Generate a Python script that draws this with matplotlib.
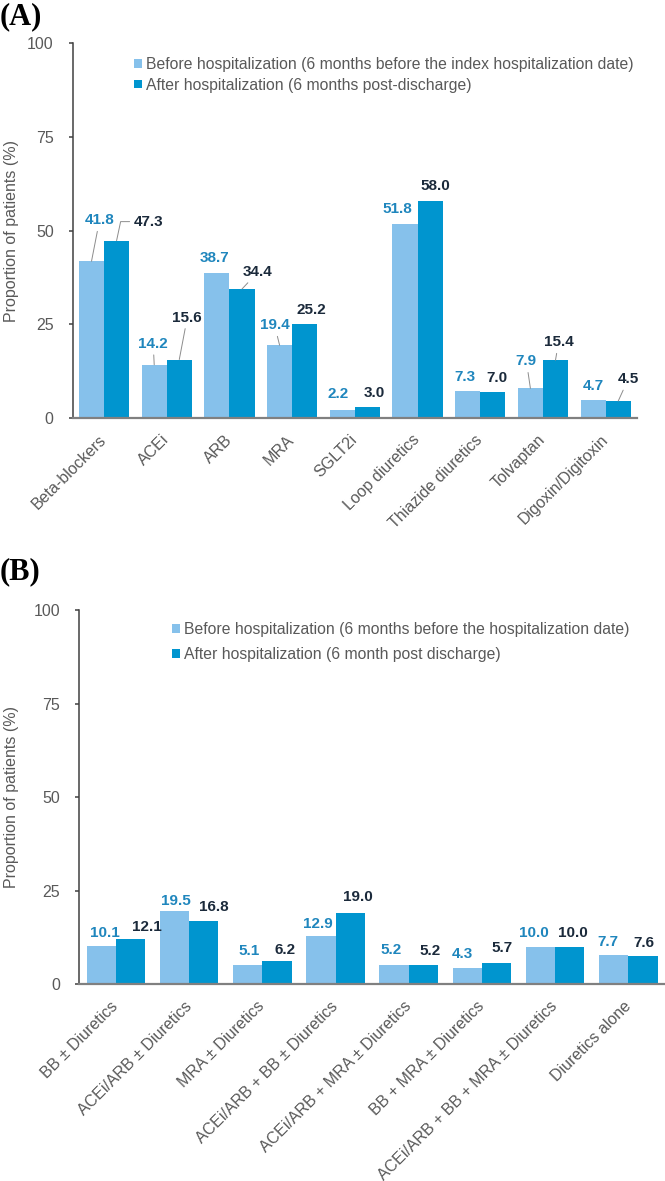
import matplotlib
matplotlib.use("Agg")
import matplotlib.pyplot as plt
import numpy as np

plt.rcParams['font.family'] = ['Liberation Sans', 'DejaVu Sans']

# panel A: individual drug classes
drugs = ["Beta-blockers", "ACEi", "ARB", "MRA", "SGLT2i", "Loop diuretics",
         "Thiazide diuretics", "Tolvaptan", "Digoxin/Digitoxin"]
drugs_before = [41.8, 14.2, 38.7, 19.4, 2.2, 51.8, 7.3, 7.9, 4.7]
drugs_after = [47.3, 15.6, 34.4, 25.2, 3.0, 58.0, 7.0, 15.4, 4.5]
legend_a = ["Before hospitalization (6 months before the index hospitalization date)",
            "After hospitalization (6 months post-discharge)"]

# panel B: combinations
combos = ["BB \u00b1 Diuretics", "ACEi/ARB \u00b1 Diuretics", "MRA \u00b1 Diuretics",
          "ACEi/ARB + BB \u00b1 Diuretics", "ACEi/ARB + MRA \u00b1 Diuretics",
          "BB + MRA \u00b1 Diuretics", "ACEi/ARB + BB + MRA \u00b1 Diuretics",
          "Diuretics alone"]
combos_before = [10.1, 19.5, 5.1, 12.9, 5.2, 4.3, 10.0, 7.7]
combos_after = [12.1, 16.8, 6.2, 19.0, 5.2, 5.7, 10.0, 7.6]
legend_b = ["Before hospitalization (6 months before the hospitalization date)",
            "After hospitalization (6 month post discharge)"]

# label nudges in pixels (dx, dy) from bar top; leader: None, "line" or a connection style
offs_a_before = [(8, 41), (-1, 21), (-2, 15), (-5, 20), (-4, 16), (-8, 15), (-3, 14), (-4, 27), (0, 14)]
offs_a_after = [(32, 19), (8, 42), (16, 17), (7, 14), (7, 14), (5, 15), (4, 14), (3, 18), (10, 22)]
lead_a_before = ["line", "line", None, "line", None, None, None, "line", None]
lead_a_after = ["angle,angleA=0,angleB=78,rad=0", "line", "line", None, None, None, None, "line", "line"]
offs_b_before = [(4, 13), (1, 10), (1, 14), (-3, 12), (-3, 15), (-5, 14), (-7, 14), (-6, 13)]
offs_b_after = [(16, 12), (10, 14), (8, 11), (8, 16), (7, 14), (5, 15), (3, 14), (1, 13)]

LIGHT = "#86C1EB"
DARK = "#0095CF"
C_BEFORE = "#1F86BD"
C_AFTER = "#1B2A3B"
GREY = "#595959"


def draw_panel(ax, cats, before, after, ob, oa, lb, la, labels, leg_anchor, leg_space, ylab_x):
    x = np.arange(len(cats))
    w = 0.4
    ax.bar(x - w / 2, before, w, color=LIGHT, label=labels[0])
    ax.bar(x + w / 2, after, w, color=DARK, label=labels[1])

    for xs, vals, offs, leads, col in [(x - w / 2, before, ob, lb, C_BEFORE),
                                       (x + w / 2, after, oa, la, C_AFTER)]:
        for i, v in enumerate(vals):
            kw = {}
            if leads[i]:
                ap = dict(arrowstyle="-", color="#8c8c8c", lw=0.7, shrinkA=1, shrinkB=0)
                if leads[i] != "line":
                    ap["connectionstyle"] = leads[i]
                kw["arrowprops"] = ap
            ax.annotate(f"{v:.1f}", xy=(xs[i], v), xytext=offs[i],
                        textcoords="offset pixels", ha="center", va="center",
                        fontsize=11, fontweight="bold", color=col, **kw)

    ax.set_xlim(-0.5, len(cats) - 0.5)
    ax.set_ylim(0, 100)
    ax.set_yticks([0, 25, 50, 75, 100])
    ax.tick_params(axis="y", length=3.2, width=1.1, color="#404040", labelcolor=GREY,
                   labelsize=11.5, pad=10.5)
    ax.set_xticks(x)
    ax.set_xticklabels(cats, rotation=45, ha="right", va="center",
                       rotation_mode="anchor", fontsize=11.5, color=GREY)
    ax.tick_params(axis="x", length=0, pad=14)
    for s in ["top", "right"]:
        ax.spines[s].set_visible(False)
    ax.spines["left"].set_color("#404040")
    ax.spines["left"].set_linewidth(1.1)
    ax.spines["bottom"].set_color("#808080")
    ax.spines["bottom"].set_linewidth(1.6)
    ax.set_ylabel("Proportion of patients (%)", fontsize=11.5, color=GREY, va="center")
    ax.yaxis.set_label_coords(ylab_x, 0.5)

    ax.legend(loc="upper left", bbox_to_anchor=leg_anchor, bbox_transform=fig.transFigure,
              frameon=False, fontsize=11.3, borderpad=0, borderaxespad=0,
              handlelength=0.48, handleheight=0.48, handletextpad=0.3,
              labelspacing=leg_space, labelcolor=GREY)


fig = plt.figure(figsize=(6.65, 11.81), dpi=100)
H = 1181.0
W = 665.0

ax_a = fig.add_axes([72.7 / W, 1 - 418 / H, (637 - 72.7) / W, (418 - 43) / H])
ax_b = fig.add_axes([79.3 / W, 1 - 984.3 / H, (665 - 79.3) / W, (984.3 - 610) / H])

draw_panel(ax_a, drugs, drugs_before, drugs_after, offs_a_before, offs_a_after,
           lead_a_before, lead_a_after, legend_a, (134 / W, 1 - 57 / H), 0.36,
           (12 - 72.7) / (637 - 72.7))
draw_panel(ax_b, combos, combos_before, combos_after, offs_b_before, offs_b_after,
           [None] * 8, [None] * 8, legend_b, (172 / W, 1 - 622 / H), 0.62,
           (12 - 79.3) / (665 - 79.3))

fig.text(0, 1 - 2 / H, "(A)", family=["Liberation Serif", "DejaVu Serif"],
         fontweight="bold", fontsize=22, va="top", ha="left")
fig.text(0, 1 - 557 / H, "(B)", family=["Liberation Serif", "DejaVu Serif"],
         fontweight="bold", fontsize=22, va="top", ha="left")

fig.savefig("out.png", dpi=100)
